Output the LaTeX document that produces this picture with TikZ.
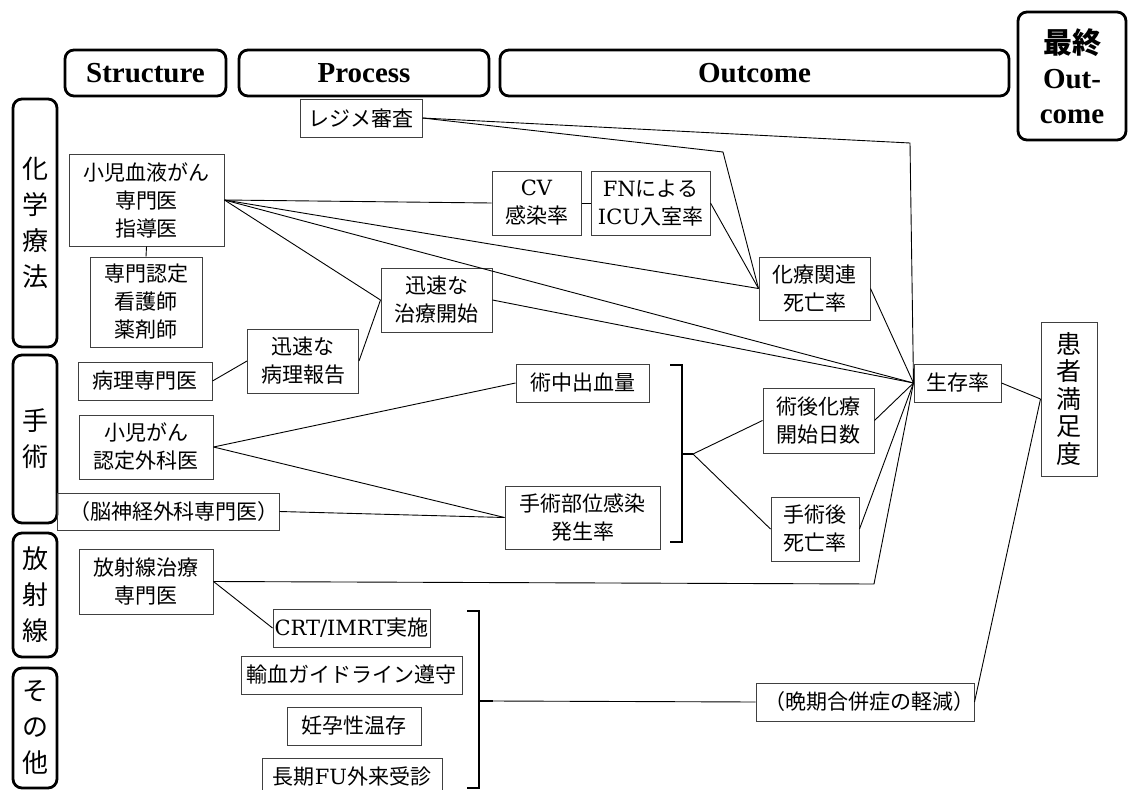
\documentclass[tikz,border=0pt]{standalone}
\usepackage{fontspec}
\setmainfont{Liberation Serif}
\newfontfamily\jp{Noto Sans CJK JP}
\newfontfamily\latfont{DejaVu Serif}
\newcommand\lat[1]{{\latfont #1}}

\begin{document}
\begin{tikzpicture}[x=1pt, y=-1pt,
    box/.style={draw=black!75, line width=1pt, inner sep=0pt, align=center,
                font=\jp\fontsize{21}{28}\selectfont},
    head/.style={draw, line width=2.8pt, rounded corners=9pt, inner sep=0pt,
                 align=center, font=\bfseries\fontsize{29}{35}\selectfont},
    side/.style={draw, line width=2.8pt, rounded corners=9pt, inner sep=0pt,
                 align=center, minimum width=44, font=\jp\fontsize{26}{36}\selectfont},
    link/.style={line width=0.9pt},
    brace/.style={line width=2pt},
  ]
  \useasboundingbox (0,0) rectangle (1128,790);

  \node[head, minimum width=161, minimum height=46] (hstr) at (145.5,73) {Structure};
  \node[head, minimum width=250, minimum height=46] (hpro) at (364,73) {Process};
  \node[head, minimum width=509, minimum height=46] (hout) at (754.5,73) {Outcome};
  \node[head, minimum width=108, minimum height=128] (hfin) at (1072,76) {{\jp 最終}\\Out-\\come};

  \node[side, minimum height=248] (chemo) at (35,223) {化\\学\\療\\法};
  \node[side, minimum height=168] (surg)  at (35,439) {手\\術};
  \node[side, minimum height=124] (radio) at (35,595) {放\\射\\線};
  \node[side, minimum height=120] (other) at (35,728) {そ\\の\\他};

  \node[box, minimum width=122, minimum height=38] (regime)  at (361,118)   {レジメ審査};
  \node[box, minimum width=155, minimum height=92] (shoni)   at (146.5,200) {小児血液がん\\専門医\\指導医};
  \node[box, minimum width=112, minimum height=90] (nurse)   at (146,302)   {専門認定\\看護師\\薬剤師};
  \node[box, minimum width=111, minimum height=64] (start)   at (436.5,300) {迅速な\\治療開始};
  \node[box, minimum width=111, minimum height=64] (report)  at (303,361)   {迅速な\\病理報告};
  \node[box, minimum width=134, minimum height=38] (patho)   at (145,381)   {病理専門医};
  \node[box, minimum width=89,  minimum height=64] (cv)      at (536.5,203) {\lat{CV}\\感染率};
  \node[box, minimum width=119, minimum height=64] (icu)     at (650.5,203) {\lat{FN}による\\\lat{ICU}入室率};
  \node[box, minimum width=111, minimum height=63] (chemod)  at (814.5,288.5) {化療関連\\死亡率};
  \node[box, minimum width=87,  minimum height=38] (surv)    at (957.5,383) {生存率};
  \node[box, minimum width=56,  minimum height=154, font=\jp\fontsize{25}{27.5}\selectfont]
                                                   (satis)   at (1069,399)  {患\\者\\満\\足\\度};
  \node[box, minimum width=133, minimum height=38] (blood)   at (582.5,383) {術中出血量};
  \node[box, minimum width=134, minimum height=64] (surgeon) at (146,447)   {小児がん\\認定外科医};
  \node[box, minimum width=222, minimum height=37] (neuro)   at (168,511.5) {\hspace*{12pt}（脳神経外科専門医）};
  \node[box, minimum width=155, minimum height=63] (ssi)     at (582.5,517.5) {手術部位感染\\発生率};
  \node[box, minimum width=111, minimum height=65] (postchem) at (818.5,420.5) {術後化療\\開始日数};
  \node[box, minimum width=88,  minimum height=64] (postdth) at (815,529)   {手術後\\死亡率};
  \node[box, minimum width=134, minimum height=65] (radiodr) at (146,581.5) {放射線治療\\専門医};
  \node[box, minimum width=157, minimum height=38] (crt)     at (351.5,628) {\lat{CRT/IMRT}実施};
  \node[box, minimum width=221, minimum height=38] (transf)  at (351.5,675) {輸血ガイドライン遵守};
  \node[box, minimum width=134, minimum height=38] (fert)    at (354,726)   {妊孕性温存};
  \node[box, minimum width=180, minimum height=38] (follow)  at (352,777)   {長期\lat{FU}外来受診};
  \node[box, minimum width=218, minimum height=38] (late)    at (865,702)   {\hspace*{8pt}（晩期合併症の軽減）};

  \coordinate (r1)  at (910,143);
  \coordinate (r2)  at (723,152);
  \coordinate (h1)  at (874,584);
  \coordinate (br1) at (693,454);
  \coordinate (br2) at (493,701);

  \draw[brace] (670,365) -- (682,365) -- (682,542) -- (670,542);
  \draw[brace] (682,454) -- (br1);
  \draw[brace] (467,611) -- (479,611) -- (479,788) -- (467,788);
  \draw[brace] (479,701) -- (br2);

  \draw[link] (shoni.south) -- (nurse.north);
  \draw[link] (shoni.east) -- (cv.west);
  \draw[link] (shoni.east) -- (chemod.west);
  \draw[link] (shoni.east) -- (surv.west);
  \draw[link] (shoni.east) -- (start.west);
  \draw[link] (patho.east) -- (report.west);
  \draw[link] (report.east) -- (start.west);
  \draw[link] (start.east) -- (surv.west);
  \draw[link] (regime.east) -- (r1) -- (surv.west);
  \draw[link] (regime.east) -- (r2) -- (chemod.west);
  \draw[link] (cv.east) -- (icu.west);
  \draw[link] (icu.east) -- (chemod.west);
  \draw[link] (chemod.east) -- (surv.west);
  \draw[link] (postchem.east) -- (surv.west);
  \draw[link] (postdth.east) -- (surv.west);
  \draw[link] (radiodr.east) -- (h1) -- (surv.west);
  \draw[link] (br1) -- (postchem.west);
  \draw[link] (br1) -- (postdth.west);
  \draw[link] (surgeon.east) -- (blood.west);
  \draw[link] (surgeon.east) -- (ssi.west);
  \draw[link] (neuro.east) -- (ssi.west);
  \draw[link] (radiodr.east) -- (crt.west);
  \draw[link] (br2) -- (late.west);
  \draw[link] (surv.east) -- (satis.west);
  \draw[link] (late.east) -- (satis.west);
\end{tikzpicture}
\end{document}
